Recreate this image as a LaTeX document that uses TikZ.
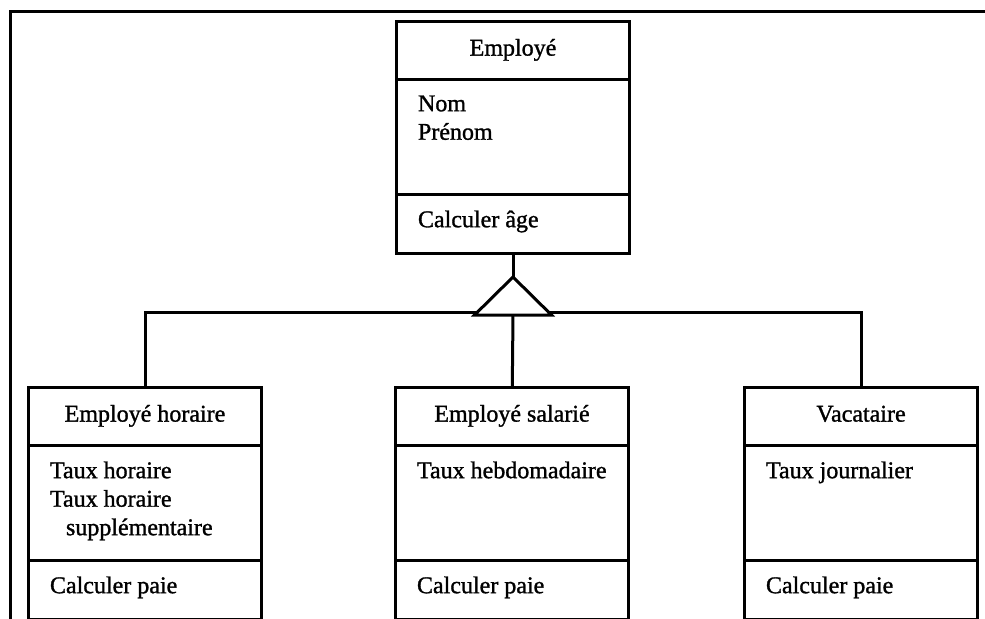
\documentclass[tikz,border=0pt]{standalone}
\usepackage{fontspec}
\setmainfont[FakeBold=1.2]{Liberation Serif}
\usepackage{tikz}
\usetikzlibrary{positioning}
\usetikzlibrary{calc}

\begin{document}
\begin{tikzpicture}[%
  x=0.5pt, y=-0.5pt, line width=1.5pt, node distance=0pt,
  font=\fontsize{12pt}{14.25pt}\selectfont,
  part/.style={draw, minimum width=116.5pt, inner sep=0pt, outer sep=0pt},
  head/.style={part, minimum height=29pt, text height=8.2pt, text depth=2.6pt},
  attr/.style={part, minimum height=57.5pt},
  oper/.style={part, minimum height=29.5pt},
  txt/.style={anchor=north west, inner sep=0pt, align=left}
  ]
  \useasboundingbox (0,0) rectangle (985,618);
  % Page frame (right and bottom sides fall outside)
  \draw (10,11) rectangle (1010,650);

  % Draw the superclass
  \node[head] (E-1) at (513,50) {Employé};
  \node[attr, below=of E-1] (E-2) {};
  \node[oper, below=of E-2] (E-3) {};
  \node[txt, below right=7.5pt and 10pt of E-2.north west] {Nom\\Prénom};
  \node[txt, below right=7.5pt and 10pt of E-3.north west] {Calculer âge};

  % Draw the three subclasses
  \foreach \name/\x/\title/\attr in {%
    EH/145/{Employé horaire}/{Taux horaire\\Taux horaire\\\hspace*{8pt}supplémentaire},
    ES/512/{Employé salarié}/{Taux hebdomadaire},
    VA/861/{Vacataire}/{Taux journalier}}
  {
    \node[head] (\name-1) at (\x,416) {\title};
    \node[attr, below=of \name-1] (\name-2) {};
    \node[oper, below=of \name-2] (\name-3) {};
    \node[txt, below right=7.5pt and 10pt of \name-2.north west] {\attr};
    \node[txt, below right=7.5pt and 10pt of \name-3.north west] {Calculer paie};
  }

  % Inheritance: triangle on a common bus
  \coordinate[below=12pt of E-3] (tip);
  \coordinate[below=19pt of tip] (base);
  \coordinate[above=1.5pt of base] (bus);
  \draw (E-3) -- (tip);
  \draw (EH-1) |- (bus) -| (VA-1);
  \draw (base) -- (ES-1);
  \draw[fill=white] (tip) -- ($(base)+(-38.5,0)$) -- ($(base)+(38.5,0)$) -- cycle;
\end{tikzpicture}
\end{document}
